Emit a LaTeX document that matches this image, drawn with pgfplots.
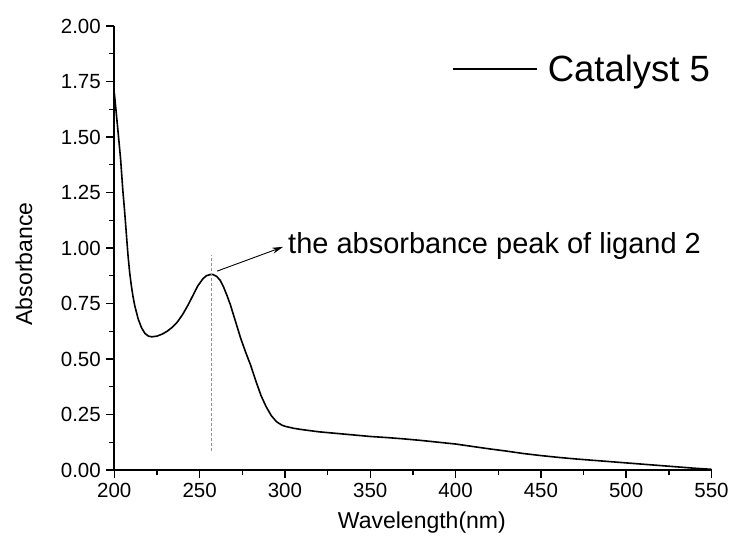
\documentclass[border=0pt]{standalone}
\usepackage{fontspec}
\setmainfont{Liberation Sans}
\usepackage{pgfplots}
\pgfplotsset{compat=1.18}
\usetikzlibrary{arrows.meta}
\begin{document}
\begin{tikzpicture}
\path[use as bounding box] (-114.3bp,-71bp) rectangle (615.7bp,470bp);
\begin{axis}[
  at={(0,0)}, anchor=south west,
  scale only axis, width=597.2bp, height=444bp,
  xmin=200, xmax=550, ymin=0, ymax=2,
  axis lines*=left,
  axis line style={line width=1.6bp},
  xtick={200,250,300,350,400,450,500,550},
  ytick={0,0.25,0.5,0.75,1,1.25,1.5,1.75,2},
  minor x tick num=1, minor y tick num=1,
  tick align=outside,
  major tick length=8bp, minor tick length=5bp,
  every tick/.style={black, line width=1.4bp},
  /pgf/number format/assume math mode=true,
  yticklabel style={/pgf/number format/fixed, /pgf/number format/fixed zerofill,
    /pgf/number format/precision=2, xshift=-2bp},
  tick label style={font=\fontsize{20.5bp}{24bp}\selectfont},
  xticklabel style={yshift=-2bp},
  label style={font=\fontsize{23bp}{27bp}\selectfont},
  xlabel={Wavelength(nm)},
  ylabel={Absorbance},
  xlabel style={at={(axis description cs:0.515,0)}, anchor=base, yshift=-58bp},
  ylabel style={at={(axis description cs:-0.1378,0.464)}, anchor=base},
  clip=false,
  legend style={draw=none, fill=none, at={(axis cs:397.9,1.806)}, anchor=west,
    font=\fontsize{36.5bp}{40bp}\selectfont, inner sep=0pt, cells={anchor=west}},
  legend image code/.code={\draw[#1] (0bp,0bp) -- (84bp,0bp); \path (92bp,0bp);},
]
\addplot[black, line width=1.6bp] coordinates {
(200,1.70) (201,1.62) (202,1.54) (203.7,1.40) (205,1.26) (206,1.17) (207,1.07) (208,0.97)
(209,0.89) (210,0.83) (211,0.78) (212,0.74) (214,0.68) (216,0.64) (218,0.615) (220,0.603)
(222,0.600) (225,0.603) (228,0.612) (231,0.625) (234,0.643) (237,0.667) (240,0.70)
(243,0.74) (246,0.785) (249,0.83) (252,0.862) (254,0.875) (256,0.880) (257,0.881)
(258,0.880) (260,0.872) (262,0.855) (264,0.825) (266,0.787) (268,0.745) (271,0.67)
(274,0.595) (277,0.53) (280,0.47) (283,0.40) (286,0.335) (289,0.285) (292,0.245)
(295,0.218) (298,0.203) (300,0.197) (305,0.188) (310,0.182) (320,0.172) (330,0.165)
(340,0.158) (350,0.151) (360,0.146) (370,0.140) (380,0.133) (390,0.125) (400,0.117)
(410,0.106) (420,0.095) (430,0.085) (440,0.074) (450,0.065) (460,0.057) (470,0.050)
(480,0.044) (490,0.038) (500,0.032) (510,0.026) (520,0.020) (530,0.014) (540,0.008)
(550,0.003)
};
\addlegendentry{Catalyst 5}
\addplot[gray!85, line width=1.2bp, dash pattern=on 3bp off 2bp, forget plot]
  coordinates {(256.8,0.086) (256.8,0.968)};
\addplot[black, line width=0.9bp, -{Stealth[length=11bp,width=6bp]}, forget plot]
  coordinates {(260.3,0.896) (298.9,1.005)};
\node[anchor=base west, inner sep=0pt, font=\fontsize{29bp}{33bp}\selectfont]
  at (axis cs:301.8,0.973) {the absorbance peak of ligand 2};
\end{axis}
\end{tikzpicture}
\end{document}
